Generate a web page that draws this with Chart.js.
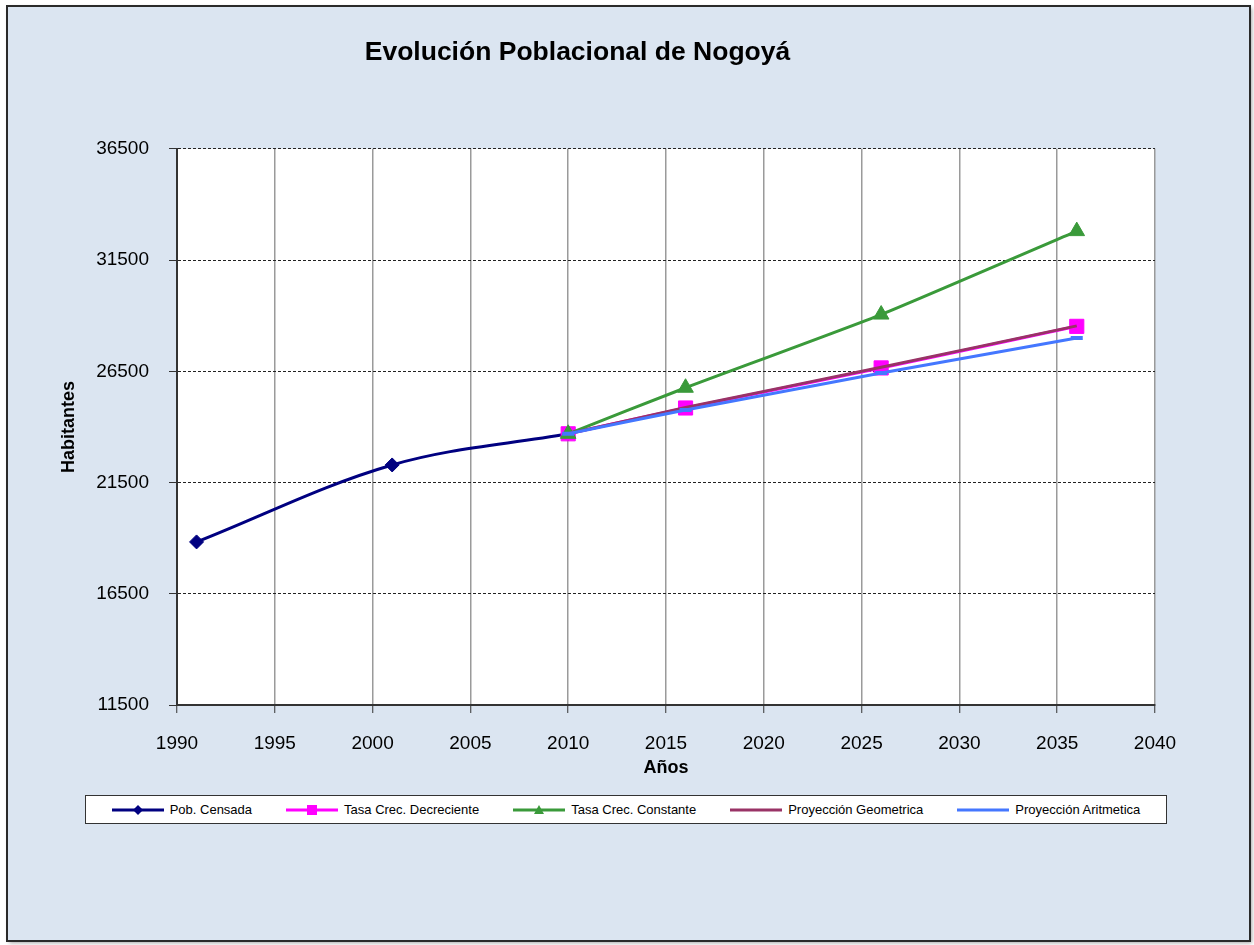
<!DOCTYPE html>
<html lang="es">

<head>
  <meta charset="UTF-8">
  <title>Evolución Poblacional de Nogoyá</title>
  <style>
    body {
      margin: 0;
      padding: 0;
      background-color: #fff;
    }

    #wrap {
      position: relative;
      width: 1254px;
      height: 945px;
    }

    #chart {
      position: absolute;
      left: 0;
      top: 0;
    }

    #legend {
      position: absolute;
      left: 85px;
      top: 795px;
      width: 1080px;
      height: 27px;
      border: 1px solid #333;
      background-color: #fff;
      display: flex;
      align-items: center;
      justify-content: center;
      gap: 34px;
      font-family: 'Liberation Sans', Arial, sans-serif;
      font-size: 13px;
      color: #000;
    }

    #legend .item {
      display: flex;
      align-items: center;
      gap: 6px;
      white-space: nowrap;
    }
  </style>
</head>

<body>
  <div id="wrap">
    <canvas id="chart" width="1254" height="945"></canvas>
    <div id="legend"></div>
  </div>

  <script src="https://cdn.jsdelivr.net/npm/chart.js"></script>

  <script>
    // años
    const censoYears = [1991, 2001, 2010];
    const projYears = [2010, 2016, 2026, 2036];

    // habitantes
    const pobCensada = [18830, 22290, 23690];
    const tasaDecreciente = [23690, 24850, 26650, 28520];
    const tasaConstante = [23690, 25760, 29050, 32800];
    const proyGeometrica = [23690, 24870, 26680, 28540];
    const proyAritmetica = [23690, 24760, 26420, 28000];

    const seriesNames = ['Pob. Censada', 'Tasa Crec. Decreciente', 'Tasa Crec. Constante', 'Proyección Geometrica', 'Proyección Aritmetica'];

    const yTicks = [11500, 16500, 21500, 26500, 31500, 36500];
    const xTicks = [1990, 1995, 2000, 2005, 2010, 2015, 2020, 2025, 2030, 2035, 2040];

    const pts = (xs, ys) => xs.map((x, i) => ({ x: x, y: ys[i] }));

    const styles = [
      { color: '#000080', marker: 'rectRot', radius: 7 },
      { color: '#ff00ff', marker: 'rect', radius: 10 },
      { color: '#3a9a3a', marker: 'triangle', radius: 9 },
      { color: '#993366', marker: false, radius: 0 },
      { color: '#4477ff', marker: 'line', radius: 6 }
    ];

    const values = [
      pts(censoYears, pobCensada),
      pts(projYears, tasaDecreciente),
      pts(projYears, tasaConstante),
      pts(projYears, proyGeometrica),
      pts(projYears, proyAritmetica)
    ];

    const datasets = values.map((data, i) => ({
      label: seriesNames[i],
      data: data,
      borderColor: styles[i].color,
      backgroundColor: styles[i].color,
      borderWidth: 3,
      tension: i === 0 ? 0.35 : 0.15,
      pointStyle: styles[i].marker,
      pointRadius: styles[i].radius,
      pointHoverRadius: styles[i].radius,
      pointBorderWidth: styles[i].marker === 'line' ? 4 : 1,
      order: 5 - i,
      fill: false
    }));

    // fondo del gráfico y marco exterior
    const frame = {
      id: 'frame',
      beforeDraw(chart) {
        const ctx = chart.ctx;
        const a = chart.chartArea;
        ctx.save();
        ctx.fillStyle = '#ffffff';
        ctx.fillRect(0, 0, chart.width, chart.height);
        ctx.shadowColor = 'rgba(0,0,0,0.35)';
        ctx.shadowBlur = 4;
        ctx.shadowOffsetX = 2;
        ctx.shadowOffsetY = 2;
        ctx.fillStyle = '#dbe5f1';
        ctx.fillRect(7, 6, 1243, 935);
        ctx.shadowColor = 'transparent';
        ctx.strokeStyle = '#2a2a2a';
        ctx.lineWidth = 2;
        ctx.strokeRect(7, 6, 1243, 935);
        ctx.fillStyle = '#ffffff';
        ctx.fillRect(a.left, a.top, a.right - a.left, a.bottom - a.top);
        ctx.restore();
      }
    };

    const tickFont = { family: "'Liberation Sans', Arial, sans-serif", size: 19 };
    const titleFont = { family: "'Liberation Sans', Arial, sans-serif", size: 18, weight: 'bold' };

    new Chart(document.getElementById('chart'), {
      type: 'line',
      data: { datasets: datasets },
      plugins: [frame],
      options: {
        responsive: false,
        animation: false,
        devicePixelRatio: 1,
        layout: { padding: { left: 0, right: 99, top: 0, bottom: 166 } },
        plugins: {
          legend: { display: false },
          tooltip: { enabled: false },
          title: {
            display: true,
            text: 'Evolución Poblacional de Nogoyá',
            color: '#000',
            font: { family: "'Liberation Sans', Arial, sans-serif", size: 26.5, weight: 'bold' },
            padding: { top: 37, bottom: 80 }
          }
        },
        scales: {
          x: {
            type: 'linear',
            min: xTicks[0],
            max: xTicks[xTicks.length - 1],
            afterFit(scale) { scale.height = 74; },
            afterBuildTicks(scale) { scale.ticks = xTicks.map(v => ({ value: v })); },
            ticks: {
              color: '#000',
              font: tickFont,
              padding: 19,
              maxRotation: 0,
              callback: v => String(v)
            },
            grid: {
              color: '#9a9a9a',
              lineWidth: 1.5,
              tickColor: '#333',
              tickLength: 8,
              tickWidth: 1
            },
            border: { color: '#333', width: 2 },
            title: {
              display: true,
              text: 'Años',
              color: '#000',
              font: titleFont,
              padding: { top: 0, bottom: 0 }
            }
          },
          y: {
            min: yTicks[0],
            max: yTicks[yTicks.length - 1],
            afterFit(scale) { scale.width = 177; },
            afterBuildTicks(scale) { scale.ticks = yTicks.map(v => ({ value: v })); },
            ticks: {
              color: '#000',
              font: tickFont,
              padding: 20,
              callback: v => String(v)
            },
            grid: {
              color: '#222',
              lineWidth: 1,
              tickColor: '#333',
              tickLength: 8,
              tickBorderDash: []
            },
            border: { color: '#333', width: 2, dash: [3, 2] },
            title: {
              display: true,
              text: 'Habitantes',
              color: '#000',
              font: titleFont,
              padding: { top: 58, bottom: 0 }
            }
          }
        }
      }
    });

    // leyenda con línea y marcador
    const legend = document.getElementById('legend');
    seriesNames.forEach((name, i) => {
      const item = document.createElement('div');
      item.className = 'item';
      const sw = document.createElement('canvas');
      sw.width = 52;
      sw.height = 14;
      const c = sw.getContext('2d');
      c.strokeStyle = styles[i].color;
      c.fillStyle = styles[i].color;
      c.lineWidth = 3;
      c.beginPath();
      c.moveTo(0, 7);
      c.lineTo(52, 7);
      c.stroke();
      if (styles[i].marker === 'rectRot') {
        c.beginPath();
        c.moveTo(26, 2); c.lineTo(31, 7); c.lineTo(26, 12); c.lineTo(21, 7);
        c.fill();
      } else if (styles[i].marker === 'rect') {
        c.fillRect(21, 2, 10, 10);
      } else if (styles[i].marker === 'triangle') {
        c.beginPath();
        c.moveTo(26, 2); c.lineTo(31, 11); c.lineTo(21, 11);
        c.fill();
      }
      const label = document.createElement('span');
      label.textContent = name;
      item.appendChild(sw);
      item.appendChild(label);
      legend.appendChild(item);
    });
  </script>
</body>

</html>
